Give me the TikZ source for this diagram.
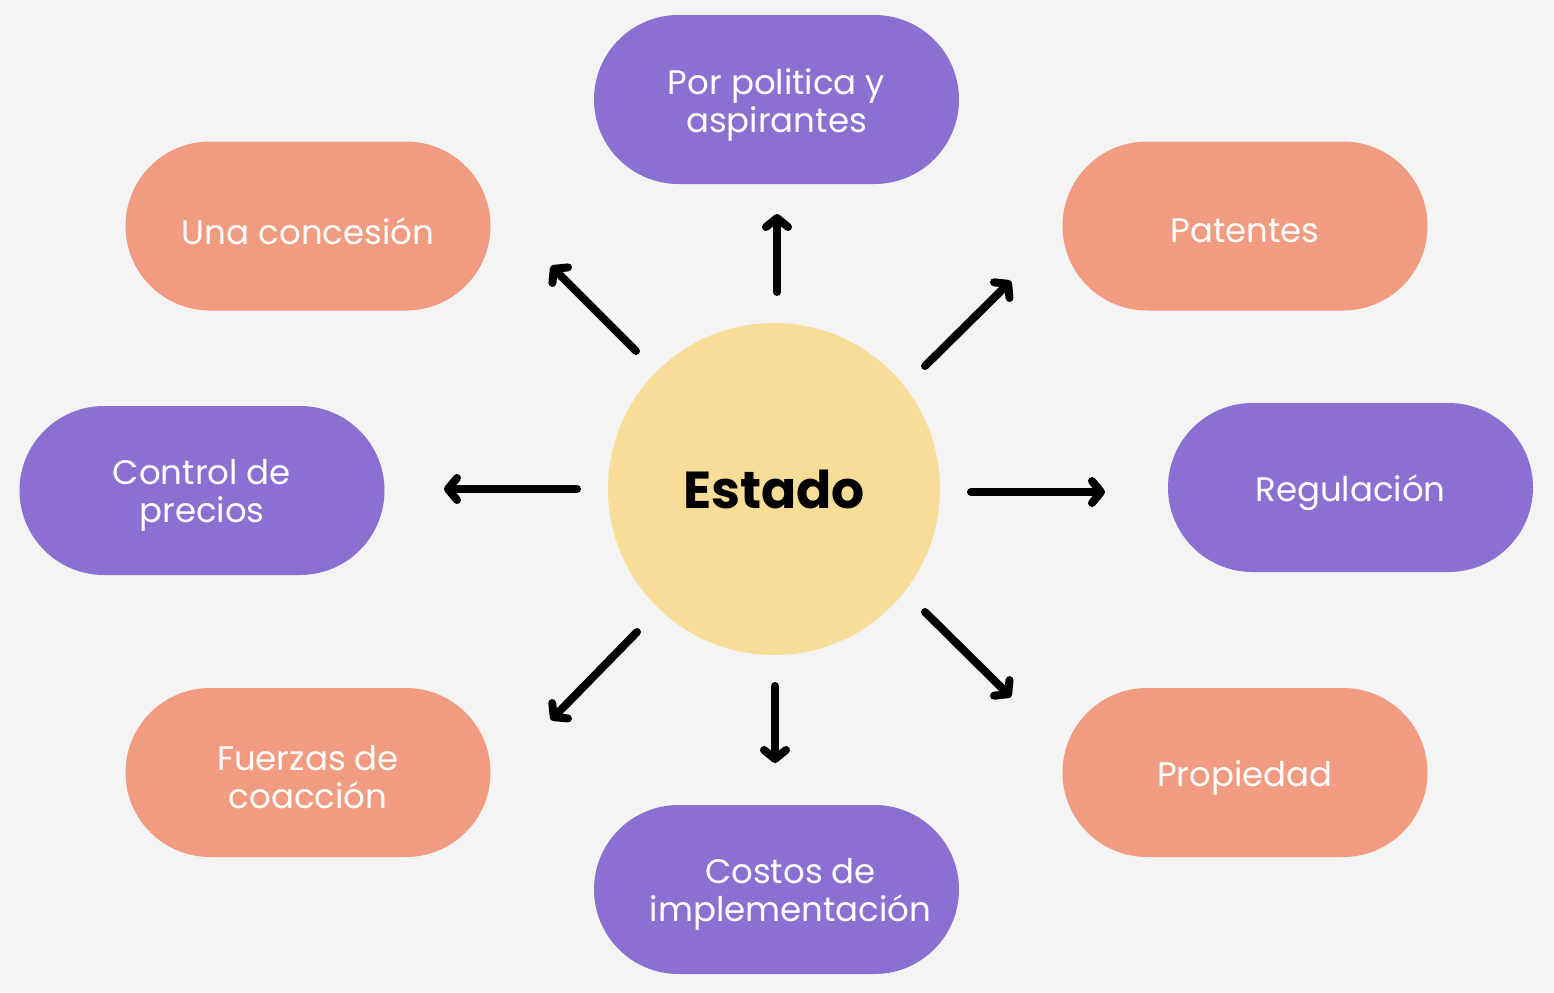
\documentclass[tikz,border=0pt]{standalone}
\usepackage{fontspec}
\setmainfont{Poppins}
\usepackage{tikz}
\usetikzlibrary{shapes.misc,arrows.meta}
\definecolor{bg}{RGB}{244, 244, 244}
\definecolor{lila}{RGB}{140, 112, 209}
\definecolor{salmon}{RGB}{241, 156, 128}
\definecolor{sol}{RGB}{248, 221, 152}

\begin{document}
\begin{tikzpicture}[scale=0.5,
lbl/.style={text=white, align=center, inner sep=0pt, yshift=-2.5pt, font=\fontsize{17}{19}\selectfont},
pill/.style={rounded rectangle, minimum width=182.5pt, minimum height=84.5pt, inner sep=0pt, label={[lbl]center:#1}},
arr/.style={line width=4pt, line cap=round, -{Straight Barb[length=4.5pt, width=11pt, round]}}]
\fill [bg] (0pt, 0pt) rectangle (1554pt, -992pt);
\useasboundingbox (0pt, 0pt) rectangle (1554pt, -992pt);
\node (0) [circle, minimum size=166pt, inner sep=0pt, fill=sol, font=\fontsize{26}{30}\selectfont\bfseries] at (774pt, -489pt) {Estado};
\node (1) [pill={Por politica y\\aspirantes}, fill=lila] at (776.5pt, -99.5pt) {};
\node (2) [pill={Una concesión}, fill=salmon] at (308pt, -226pt) {};
\node (3) [pill={Patentes}, fill=salmon] at (1245pt, -226pt) {};
\node (4) [pill={Control de\\precios}, fill=lila] at (202pt, -490.5pt) {};
\node (5) [pill={Regulación}, fill=lila] at (1350.5pt, -487.5pt) {};
\node (6) [pill={Fuerzas de\\coacción}, fill=salmon] at (308pt, -772.5pt) {};
\node (7) [pill={Propiedad}, fill=salmon] at (1245pt, -772.5pt) {};
\node (8) [pill={\hspace*{14pt}Costos de\\\hspace*{14pt}implementación}, fill=lila] at (776.5pt, -889.5pt) {};
% arrow ends
\coordinate (t1) at (777pt, -292pt);
\coordinate (h1) at (777pt, -214pt);
\coordinate (t2) at (636pt, -351pt);
\coordinate (h2) at (551pt, -266pt);
\coordinate (t3) at (925pt, -366pt);
\coordinate (h3) at (1011pt, -281pt);
\coordinate (t4) at (577pt, -489pt);
\coordinate (h4) at (444pt, -489pt);
\coordinate (t5) at (971pt, -492pt);
\coordinate (h5) at (1105pt, -492pt);
\coordinate (t6) at (637pt, -632pt);
\coordinate (h6) at (551pt, -720pt);
\coordinate (t7) at (775pt, -686pt);
\coordinate (h7) at (775pt, -763pt);
\coordinate (t8) at (925pt, -612pt);
\coordinate (h8) at (1011pt, -697pt);
\draw [arr] (t1) to (h1);
\draw [arr] (t2) to (h2);
\draw [arr] (t3) to (h3);
\draw [arr] (t4) to (h4);
\draw [arr] (t5) to (h5);
\draw [arr] (t6) to (h6);
\draw [arr] (t7) to (h7);
\draw [arr] (t8) to (h8);
\end{tikzpicture}
\end{document}
